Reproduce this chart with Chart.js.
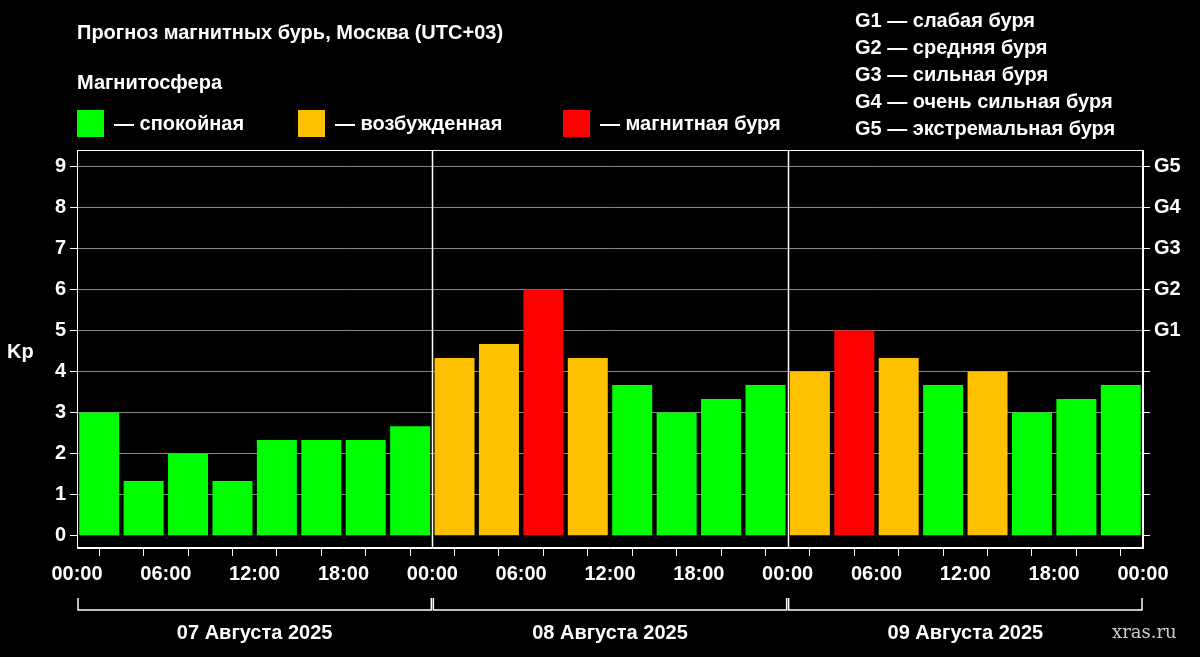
<!DOCTYPE html>
<html><head><meta charset="utf-8">
<script src="https://cdn.jsdelivr.net/npm/chart.js@4"></script>
<style>html,body{margin:0;background:#000;}#w{width:1200px;height:657px;}</style>
</head><body><div id="w"><canvas id="c"></canvas></div>
<script>
const hours = [1.5,4.5,7.5,10.5,13.5,16.5,19.5,22.5,25.5,28.5,31.5,34.5,37.5,40.5,43.5,46.5,49.5,52.5,55.5,58.5,61.5,64.5,67.5,70.5];
const kp = [3,1.33,2,1.33,2.33,2.33,2.33,2.67, 4.33,4.67,6,4.33,3.67,3,3.33,3.67, 4,5,4.33,3.67,4,3,3.33,3.67];
const timeLabels = ['00:00','06:00','12:00','18:00'];
const dayLabels = ['07 Августа 2025','08 Августа 2025','09 Августа 2025'];
const gLabels = {5:'G1',6:'G2',7:'G3',8:'G4',9:'G5'};
const legendG = ['G1 — слабая буря','G2 — средняя буря','G3 — сильная буря','G4 — очень сильная буря','G5 — экстремальная буря'];
const legendM = [['— спокойная','#00ff00'],['— возбужденная','#ffc000'],['— магнитная буря','#ff0000']];
const col = v => v>=5?'#ff0000':(v>=4?'#ffc000':'#00ff00');
const F = 'bold 20px "Liberation Sans", Arial, sans-serif';
const deco = {id:'deco',
 beforeDraw(ch){const c=ch.ctx;c.save();c.fillStyle='#000';c.fillRect(0,0,ch.width,ch.height);c.restore();},
 afterDatasetsDraw(ch){const c=ch.ctx,x=ch.scales.x,a=ch.chartArea;c.save();
  c.strokeStyle='#fff';c.lineWidth=1.5;
  [24,48].forEach(h=>{const p=Math.round(x.getPixelForValue(h))+0.5;c.beginPath();c.moveTo(p,a.top);c.lineTo(p,a.bottom);c.stroke();});
  c.lineWidth=1;c.strokeRect(a.left+0.5,a.top+0.5,a.right-a.left-1,a.bottom-a.top-1);
  c.restore();},
 afterDraw(ch){const c=ch.ctx,x=ch.scales.x;c.save();c.fillStyle='#fff';c.font=F;c.textBaseline='middle';
  c.fillText('Прогноз магнитных бурь, Москва (UTC+03)',77,33);
  c.fillText('Магнитосфера',77,83);
  const lx=[77,298,563];
  legendM.forEach((m,i)=>{c.fillStyle=m[1];c.fillRect(lx[i],110,27,27);c.fillStyle='#fff';c.fillText(m[0],lx[i]+37,124);});
  legendG.forEach((t,i)=>c.fillText(t,855,21+i*27));
  c.font='bold 20px "Liberation Sans", Arial, sans-serif';c.fillText('Kp',7,352);
  c.strokeStyle='#fff';c.lineWidth=1.5;
  for(let d=0;d<3;d++){const x0=x.getPixelForValue(d*24),x1=x.getPixelForValue(d*24+24);
   c.beginPath();c.moveTo(x0+1,598);c.lineTo(x0+1,610);c.lineTo(x1-1,610);c.lineTo(x1-1,598);c.stroke();
   c.textAlign='center';c.fillText(dayLabels[d],(x0+x1)/2,633);}
  c.textAlign='left';c.fillStyle='#ccc';c.font='18px "DejaVu Serif", serif';c.fillText('xras.ru',1112,633);
  c.restore();}
};
new Chart(document.getElementById('c'),{type:'bar',
 data:{datasets:[{data:hours.map((h,i)=>({x:h,y:kp[i]})),backgroundColor:kp.map(col),barPercentage:0.9,categoryPercentage:1}]},
 options:{responsive:true,maintainAspectRatio:false,animation:false,
  layout:{padding:{top:150,left:0,right:0,bottom:0}},
  plugins:{legend:{display:false},tooltip:{enabled:false}},
  scales:{
   x:{type:'linear',min:0,max:72,offset:false,
    afterFit(s){s.height=109;},
    ticks:{stepSize:3,autoSkip:false,maxRotation:0,color:'#fff',font:{family:'Liberation Sans',size:20,weight:'bold'},padding:6,
     callback:v=>v%6===0?timeLabels[(v%24)/6]:''},
    grid:{display:true,drawOnChartArea:false,drawTicks:true,tickLength:8,color:'#fff'},border:{color:'#fff'}},
   y:{min:-0.3,max:9.4,position:'left',afterFit(s){s.width=77;},
    afterBuildTicks(s){s.ticks=[0,1,2,3,4,5,6,7,8,9].map(v=>({value:v}));},
    ticks:{color:'#fff',font:{family:'Liberation Sans',size:20,weight:'bold'},padding:4},
    grid:{color:c=>c.tick.value===0?'rgba(0,0,0,0)':'#888',tickColor:'#fff',tickLength:7,drawTicks:true},border:{color:'#fff'}},
   y2:{min:-0.3,max:9.4,position:'right',afterFit(s){s.width=57;},
    afterBuildTicks(s){s.ticks=[0,1,2,3,4,5,6,7,8,9].map(v=>({value:v}));},
    ticks:{color:'#fff',font:{family:'Liberation Sans',size:20,weight:'bold'},padding:4,callback:v=>gLabels[v]||''},
    grid:{drawOnChartArea:false,tickColor:'#fff',tickLength:7},border:{color:'#fff'}}
  }}
 ,plugins:[deco]});
</script></body></html>
